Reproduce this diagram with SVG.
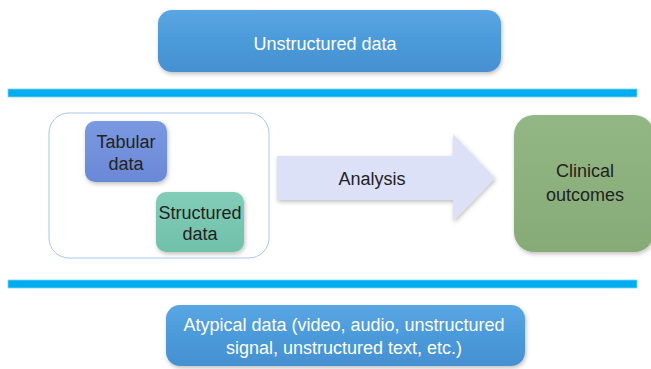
<svg xmlns="http://www.w3.org/2000/svg" width="651" height="369" viewBox="0 0 651 369">
  <defs>
    <filter id="shadow" x="-10%" y="-10%" width="120%" height="130%">
      <feDropShadow dx="1" dy="2" stdDeviation="2" flood-color="#000" flood-opacity="0.25"/>
    </filter>
    <linearGradient id="pillGrad" x1="0" y1="0" x2="0" y2="1">
      <stop offset="0" stop-color="#5aa6e4"/>
      <stop offset="0.5" stop-color="#4b9ad9"/>
      <stop offset="1" stop-color="#4690d2"/>
    </linearGradient>
    <linearGradient id="tabGrad" x1="0" y1="0" x2="0" y2="1">
      <stop offset="0" stop-color="#7b99e2"/>
      <stop offset="1" stop-color="#6a88d6"/>
    </linearGradient>
    <linearGradient id="strGrad" x1="0" y1="0" x2="0" y2="1">
      <stop offset="0" stop-color="#82cdb8"/>
      <stop offset="1" stop-color="#70c0aa"/>
    </linearGradient>
    <linearGradient id="clinGrad" x1="0" y1="0" x2="0" y2="1">
      <stop offset="0" stop-color="#93b784"/>
      <stop offset="1" stop-color="#86ab77"/>
    </linearGradient>
  </defs>
  <style>
    text { font-family: "Liberation Sans", Arial, sans-serif; font-size: 18px; text-anchor: middle; }
    .light { fill: #ffffff; }
    .dark { fill: #222222; }
    .rule { fill: #00aeef; stroke: #7fd3f5; stroke-width: 0.8; }
  </style>

  <!-- top banner -->
  <g id="unstructured">
    <rect x="158" y="10" width="343" height="62" rx="14" fill="url(#pillGrad)" filter="url(#shadow)"/>
    <text class="light" x="325" y="50">Unstructured data</text>
  </g>

  <!-- separators -->
  <rect class="rule" x="8" y="89" width="629" height="8"/>
  <rect class="rule" x="8" y="280" width="629" height="8"/>

  <!-- structured data container -->
  <g id="container">
    <rect x="49" y="113" width="220" height="145" rx="20" fill="#ffffff" stroke="#a6c8ea" stroke-width="1"/>
  </g>
  <g id="tabular">
    <rect x="85" y="121" width="82" height="61" rx="10" fill="url(#tabGrad)" filter="url(#shadow)"/>
    <text class="dark" x="126" y="148">Tabular</text>
    <text class="dark" x="126" y="170">data</text>
  </g>
  <g id="structured">
    <rect x="156" y="192" width="88" height="60" rx="10" fill="url(#strGrad)" filter="url(#shadow)"/>
    <text class="dark" x="200" y="219">Structured</text>
    <text class="dark" x="200" y="240">data</text>
  </g>

  <!-- analysis arrow -->
  <g id="connectors">
    <polygon points="277,156 453,156 453,134 495,178 453,221 453,200 277,200" fill="#dde1f7" filter="url(#shadow)"/>
    <text class="dark" x="372" y="185">Analysis</text>
  </g>

  <!-- outcome -->
  <g id="outcomes">
    <rect x="514" y="115" width="140" height="137" rx="20" fill="url(#clinGrad)" filter="url(#shadow)"/>
    <text class="dark" x="585" y="177">Clinical</text>
    <text class="dark" x="585" y="201">outcomes</text>
  </g>

  <!-- bottom banner -->
  <g id="atypical">
    <rect x="166" y="305" width="359" height="61" rx="14" fill="url(#pillGrad)" filter="url(#shadow)"/>
    <text class="light" x="344" y="331">Atypical data (video, audio, unstructured</text>
    <text class="light" x="344" y="354">signal, unstructured text, etc.)</text>
  </g>
</svg>
